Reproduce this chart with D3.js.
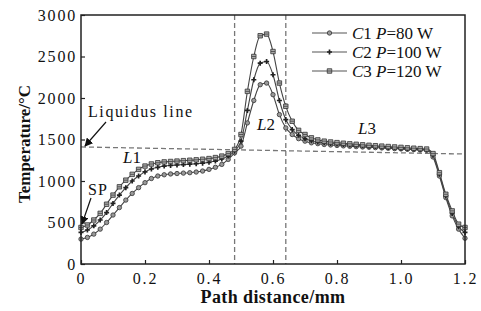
<!DOCTYPE html>
<html>
<head>
<meta charset="UTF-8">
<title>Temperature along path</title>
<script src="https://d3js.org/d3.v7.min.js"></script>
<style>
  body { margin: 0; background: #fff; }
  text { font-family: "Liberation Serif", "Times New Roman", serif; fill: #111; }
</style>
</head>
<body>
<script>
var w = 481, h = 311;

var pathX = [0, 0.02, 0.04, 0.06, 0.08, 0.10, 0.12, 0.14, 0.16, 0.18,
             0.20, 0.22, 0.24, 0.26, 0.28, 0.30, 0.32, 0.34, 0.36, 0.38,
             0.40, 0.42, 0.44, 0.46, 0.48, 0.50, 0.52, 0.54, 0.56, 0.58,
             0.60, 0.62, 0.64, 0.66, 0.68, 0.70, 0.72, 0.74, 0.76, 0.78,
             0.80, 0.82, 0.84, 0.86, 0.88, 0.90, 0.92, 0.94, 0.96, 0.98,
             1.00, 1.02, 1.04, 1.06, 1.08, 1.10, 1.12, 1.14, 1.16, 1.18, 1.20];

// C1 P=80 W
var c1 = [300, 320, 360, 420, 500, 590, 680, 770, 850, 920,
          980, 1030, 1060, 1075, 1085, 1090, 1095, 1100, 1108, 1120,
          1140, 1165, 1200, 1260, 1340, 1420, 1700, 1970, 2160, 2180,
          2040, 1800, 1640, 1560, 1510, 1480, 1460, 1450, 1440, 1434,
          1428, 1423, 1418, 1414, 1410, 1406, 1402, 1398, 1394, 1390,
          1386, 1382, 1378, 1374, 1370, 1290, 1060, 800, 580, 420, 310];
// C2 P=100 W
var c2 = [380, 410, 460, 530, 620, 730, 830, 920, 1000, 1060,
          1110, 1145, 1165, 1180, 1188, 1193, 1198, 1203, 1208, 1215,
          1225, 1240, 1265, 1300, 1360, 1480, 1850, 2220, 2420, 2440,
          2280, 1970, 1740, 1620, 1550, 1510, 1485, 1470, 1460, 1452,
          1445, 1440, 1435, 1430, 1425, 1420, 1415, 1410, 1405, 1400,
          1395, 1390, 1386, 1382, 1378, 1310, 1080, 820, 610, 450, 380];
// C3 P=120 W
var c3 = [440, 470, 530, 610, 720, 830, 930, 1010, 1080, 1140,
          1180, 1205, 1220, 1230, 1235, 1240, 1245, 1250, 1255, 1262,
          1270, 1282, 1300, 1330, 1380, 1560, 2080, 2500, 2750, 2770,
          2560, 2180, 1900, 1720, 1610, 1560, 1520, 1495, 1480, 1470,
          1462, 1455, 1448, 1442, 1436, 1430, 1425, 1420, 1415, 1410,
          1405, 1400, 1395, 1390, 1385, 1330, 1100, 840, 640, 480, 440];

var seriesNames = ["C1", "C2", "C3"];
var seriesPower = ["P=80 W", "P=100 W", "P=120 W"];

var xTicks = [0, 0.2, 0.4, 0.6, 0.8, 1.0, 1.2];
var yTicks = [0, 500, 1000, 1500, 2000, 2500, 3000];

var liquidus = [[0, 1410], [1.2, 1325]];
var zoneBounds = [0.48, 0.64];

var x = d3.scaleLinear().domain([0, 1.2]).range([81, 465]);
var y = d3.scaleLinear().domain([0, 3000]).range([264, 15]);

var svg = d3.select("body").append("svg")
    .attr("width", w).attr("height", h);

// dashed guide lines
svg.selectAll("line.zone").data(zoneBounds).enter().append("line")
    .attr("class", "zone")
    .attr("x1", function(d){ return x(d); }).attr("x2", function(d){ return x(d); })
    .attr("y1", y(3000)).attr("y2", y(0))
    .attr("stroke", "#777").attr("stroke-width", 1.3).attr("stroke-dasharray", "5,3");

svg.append("line")
    .attr("x1", x(liquidus[0][0])).attr("y1", y(liquidus[0][1]))
    .attr("x2", x(liquidus[1][0])).attr("y2", y(liquidus[1][1]))
    .attr("stroke", "#777").attr("stroke-width", 1.3).attr("stroke-dasharray", "5,3");

// series
var allSeries = [c1, c2, c3];
var line = d3.line()
    .x(function(d, i){ return x(pathX[i]); })
    .y(function(d){ return y(d); })
    .curve(d3.curveMonotoneX);

allSeries.forEach(function(s){
  svg.append("path").datum(s)
      .attr("d", line)
      .attr("fill", "none").attr("stroke", "#444").attr("stroke-width", 1.1);
});

function drawMarker(g, k) {
  if (k === 0) {
    g.append("circle").attr("r", 2.2).attr("fill", "#999").attr("stroke", "#333").attr("stroke-width", 0.8);
  } else if (k === 1) {
    g.append("path").attr("d", d3.symbol().type(d3.symbolCross).size(14)).attr("fill", "#222");
  } else {
    g.append("path").attr("d", d3.symbol().type(d3.symbolSquare).size(20))
        .attr("fill", "#aaa").attr("stroke", "#333").attr("stroke-width", 0.8);
    g.append("line").attr("x1", -2).attr("x2", 2).attr("stroke", "#333").attr("stroke-width", 0.7);
  }
}

allSeries.forEach(function(s, k){
  svg.append("g").selectAll("g").data(s).enter().append("g")
      .attr("transform", function(d, i){ return "translate(" + x(pathX[i]) + "," + y(d) + ")"; })
      .each(function(){ drawMarker(d3.select(this), k); });
});

// axes
var xAxis = svg.append("g").attr("transform", "translate(0," + y(0) + ")")
    .call(d3.axisBottom(x).tickValues(xTicks).tickSize(-4).tickPadding(9)
      .tickFormat(function(d){ return d === 0 ? "0" : d.toFixed(1); }));
var yAxis = svg.append("g").attr("transform", "translate(" + x(0) + ",0)")
    .call(d3.axisLeft(y).tickValues(yTicks).tickSize(-4).tickPadding(4).tickFormat(d3.format("d")));
[xAxis, yAxis].forEach(function(a){
  a.select(".domain").remove();
  a.selectAll("line").attr("stroke", "#222").attr("stroke-width", 1.2);
  a.selectAll("text").style("font-family", "Liberation Serif, serif")
      .style("font-size", "16px").style("letter-spacing", "1.8px").attr("fill", "#111");
});

svg.append("rect")
    .attr("x", x(0)).attr("y", y(3000))
    .attr("width", x(1.2) - x(0)).attr("height", y(0) - y(3000))
    .attr("fill", "none").attr("stroke", "#222").attr("stroke-width", 1.5);

// axis titles
svg.append("text").attr("x", 273).attr("y", 303).attr("text-anchor", "middle")
    .style("font-size", "18px").style("font-weight", "bold").style("letter-spacing", "0.4px")
    .text("Path distance/mm");
svg.append("text").attr("transform", "translate(30,144) rotate(-90)").attr("text-anchor", "middle")
    .style("font-size", "17px").style("font-weight", "bold")
    .text("Temperature/\u00B0C");

// legend
var leg = svg.append("g");
seriesNames.forEach(function(nm, k){
  var ly = 33 + k * 19;
  leg.append("line").attr("x1", 312).attr("x2", 347).attr("y1", ly).attr("y2", ly)
      .attr("stroke", "#555").attr("stroke-width", 1.2);
  drawMarker(leg.append("g").attr("transform", "translate(329.5," + ly + ")"), k);
  var t = leg.append("text").attr("x", 352).attr("y", ly + 5.5).style("font-size", "17px");
  t.append("tspan").style("font-style", "italic").text("C");
  t.append("tspan").text(nm.slice(1) + " ");
  t.append("tspan").style("font-style", "italic").text("P");
  t.append("tspan").text(seriesPower[k].slice(1));
});

// annotations
svg.append("defs").append("marker").attr("id", "ah")
    .attr("viewBox", "0 0 10 10").attr("refX", 9).attr("refY", 5)
    .attr("markerWidth", 7).attr("markerHeight", 7).attr("orient", "auto")
    .append("path").attr("d", "M0,0L10,5L0,10z").attr("fill", "#111");

svg.append("text").attr("x", 88).attr("y", 117).style("font-size", "16px").style("letter-spacing", "1.6px")
    .text("Liquidus line");
svg.append("line").attr("x1", 106).attr("y1", 122).attr("x2", 85).attr("y2", 146)
    .attr("stroke", "#111").attr("stroke-width", 1.2).attr("marker-end", "url(#ah)");

svg.append("text").attr("x", 88).attr("y", 195).style("font-size", "16px").style("letter-spacing", "1px")
    .text("SP");
svg.append("line").attr("x1", 91).attr("y1", 198).attr("x2", 82).attr("y2", 224)
    .attr("stroke", "#111").attr("stroke-width", 1.2).attr("marker-end", "url(#ah)");

function zoneLabel(px, py, num) {
  var t = svg.append("text").attr("x", px).attr("y", py).attr("text-anchor", "middle")
      .style("font-size", "17px");
  t.append("tspan").style("font-style", "italic").text("L");
  t.append("tspan").text(num);
}
zoneLabel(132, 163, "1");
zoneLabel(266, 130, "2");
zoneLabel(367, 134, "3");
</script>
</body>
</html>
